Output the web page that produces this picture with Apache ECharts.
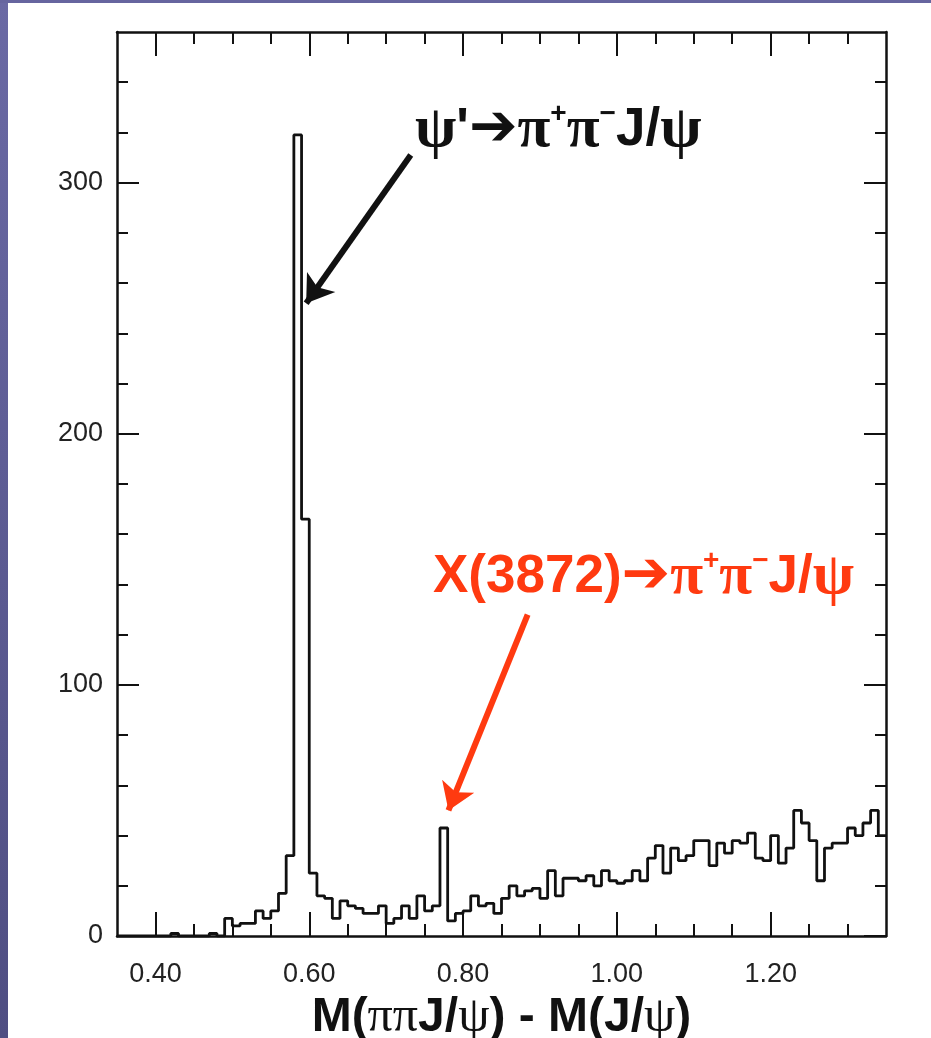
<!DOCTYPE html>
<html>
<head>
<meta charset="utf-8">
<script src="https://cdn.jsdelivr.net/npm/echarts@6/dist/echarts.min.js"></script>
<style>
  html, body { margin: 0; padding: 0; background: #fff; }
  #strip { position: absolute; left: 0; top: 0; width: 8px; height: 1038px; background: linear-gradient(#6a69a4, #4f4e82); }
  #topstrip { position: absolute; left: 0; top: 0; width: 931px; height: 3px; background: #66659f; }
  #container { position: absolute; left: 0; top: 0; width: 931px; height: 1038px; }
</style>
</head>
<body>
<div id="container"></div>
<div id="strip"></div>
<div id="topstrip"></div>
<script type="text/javascript">
// histogram: M(pipiJ/psi) - M(J/psi), 10 MeV bins from 0.35 to 1.35
var binLow = 0.35;
var binWidth = 0.01;
var counts = [
  0, 0, 0, 0, 0, 0, 0, 1, 0, 0,
  0, 0, 1, 0, 7, 4, 5, 5, 10, 7,
  10, 17, 32, 319, 166, 25, 16, 15, 7, 14,
  12, 11, 9, 9, 12, 5, 7, 12, 7, 16,
  10, 12, 43, 6, 9, 10, 16, 12, 13, 9,
  15, 20, 16, 18, 19, 15, 26, 16, 23, 23,
  22, 24, 20, 26, 22, 21, 22, 26, 22, 31,
  36, 25, 35, 30, 32, 38, 38, 28, 37, 33,
  38, 37, 41, 31, 30, 40, 29, 35, 50, 45,
  38, 22, 35, 37, 37, 43, 40, 45, 50, 40
];
// axis ticks
var xMajor = [0.40, 0.60, 0.80, 1.00, 1.20];
var xMinor = [0.45, 0.50, 0.55, 0.65, 0.70, 0.75, 0.85, 0.90, 0.95, 1.05, 1.10, 1.15, 1.25, 1.30];
var yMajor = [0, 100, 200, 300];
var yMinor = [20, 40, 60, 80, 120, 140, 160, 180, 220, 240, 260, 280, 320, 340];

window.onload = function () {
    var myChart = echarts.init(document.getElementById('container'));

    // step outline: one point per bin low edge, plus the last upper edge
    var histData = [];
    for (var i = 0; i < counts.length; i++) {
        histData.push([+(binLow + i * binWidth).toFixed(4), counts[i]]);
    }
    histData.push([+(binLow + counts.length * binWidth).toFixed(4), counts[counts.length - 1]]);

    var ink = '#111';
    var red = '#ff3a10';
    var labelFont = { fontFamily: 'Liberation Sans', fontSize: 27, color: '#222' };

    function xAxisOf(pos, ticks, len, withLabel, withLine) {
        return {
            type: 'value', position: pos, min: 0.35, max: 1.35,
            axisLine: { show: withLine, onZero: false, lineStyle: { color: ink, width: 2.5 } },
            axisTick: { show: true, inside: true, length: len, customValues: ticks, lineStyle: { color: ink, width: 2 } },
            axisLabel: withLabel ? {
                show: true, customValues: ticks, margin: 25,
                fontFamily: labelFont.fontFamily, fontSize: labelFont.fontSize, color: labelFont.color,
                formatter: function (v) { return v.toFixed(2); }
            } : { show: false },
            splitLine: { show: false }
        };
    }
    function yAxisOf(pos, ticks, len, withLabel, withLine) {
        return {
            type: 'value', position: pos, min: 0, max: 360,
            axisLine: { show: withLine, onZero: false, lineStyle: { color: ink, width: 2.5 } },
            axisTick: { show: true, inside: true, length: len, customValues: ticks, lineStyle: { color: ink, width: 2 } },
            axisLabel: withLabel ? {
                show: true, customValues: ticks, margin: 14,
                fontFamily: labelFont.fontFamily, fontSize: labelFont.fontSize, color: labelFont.color
            } : { show: false },
            splitLine: { show: false }
        };
    }

    var xMain = xAxisOf('bottom', xMajor, 24, true, true);
    xMain.name = '{b|M(}{g|ππ}{b|J/}{g|ψ}{b|) - M(J/}{g|ψ}{b|)}';
    xMain.nameLocation = 'middle';
    xMain.nameGap = 52;
    xMain.nameTextStyle = {
        rich: {
            b: { fontFamily: 'Liberation Sans', fontWeight: 'bold', fontSize: 48, color: ink },
            g: { fontFamily: 'Liberation Serif', fontSize: 50, color: ink }
        }
    };

    var titleRich = function (c) {
        return {
            b: { fontFamily: 'Liberation Sans', fontWeight: 'bold', fontSize: 53, color: c },
            g: { fontFamily: 'Liberation Serif', fontSize: 60, color: c },
            s: { fontFamily: 'Liberation Sans', fontWeight: 'bold', fontSize: 28, color: c, verticalAlign: 'top' },
            a: { fontFamily: 'DejaVu Sans', fontWeight: 'bold', fontSize: 58, color: c }
        };
    };

    var option = {
        animation: false,
        backgroundColor: 'transparent',
        grid: { left: 117, right: 45, top: 32, bottom: 102, containLabel: false, outerBoundsMode: 'none' },
        title: [
            {
                text: '{g|ψ}{b|\'}{a|➔}{g|π}{s|+}{g|π}{s|−}{b|J/}{g|ψ}',
                left: 410, top: 95,
                textStyle: { rich: titleRich(ink) }
            },
            {
                text: '{b|X(3872)}{a|➔}{g|π}{s|+}{g|π}{s|−}{b|J/}{g|ψ}',
                left: 428, top: 542,
                textStyle: { rich: titleRich(red) }
            }
        ],
        xAxis: [
            xMain,
            xAxisOf('bottom', xMinor, 12, false, false),
            xAxisOf('top', xMajor, 24, false, true),
            xAxisOf('top', xMinor, 12, false, false)
        ],
        yAxis: [
            yAxisOf('left', yMajor, 22, true, true),
            yAxisOf('left', yMinor, 11, false, false),
            yAxisOf('right', yMajor, 22, false, true),
            yAxisOf('right', yMinor, 11, false, false)
        ],
        series: [
            {
                name: 'events',
                type: 'line',
                step: 'end',
                xAxisIndex: 0,
                yAxisIndex: 0,
                data: histData,
                showSymbol: false,
                lineStyle: { color: ink, width: 2.8 },
                silent: true,
                markLine: {
                    silent: true,
                    animation: false,
                    label: { show: false },
                    symbolSize: 26,
                    data: [
                        [
                            { coord: [0.732, 311], symbol: 'none', lineStyle: { color: ink, width: 6, type: 'solid' } },
                            { coord: [0.596, 252], symbol: 'arrow' }
                        ],
                        [
                            { coord: [0.884, 128], symbol: 'none', lineStyle: { color: red, width: 6, type: 'solid' } },
                            { coord: [0.781, 50], symbol: 'arrow' }
                        ]
                    ]
                }
            }
        ]
    };

    myChart.setOption(option);
};
</script>
</body>
</html>
